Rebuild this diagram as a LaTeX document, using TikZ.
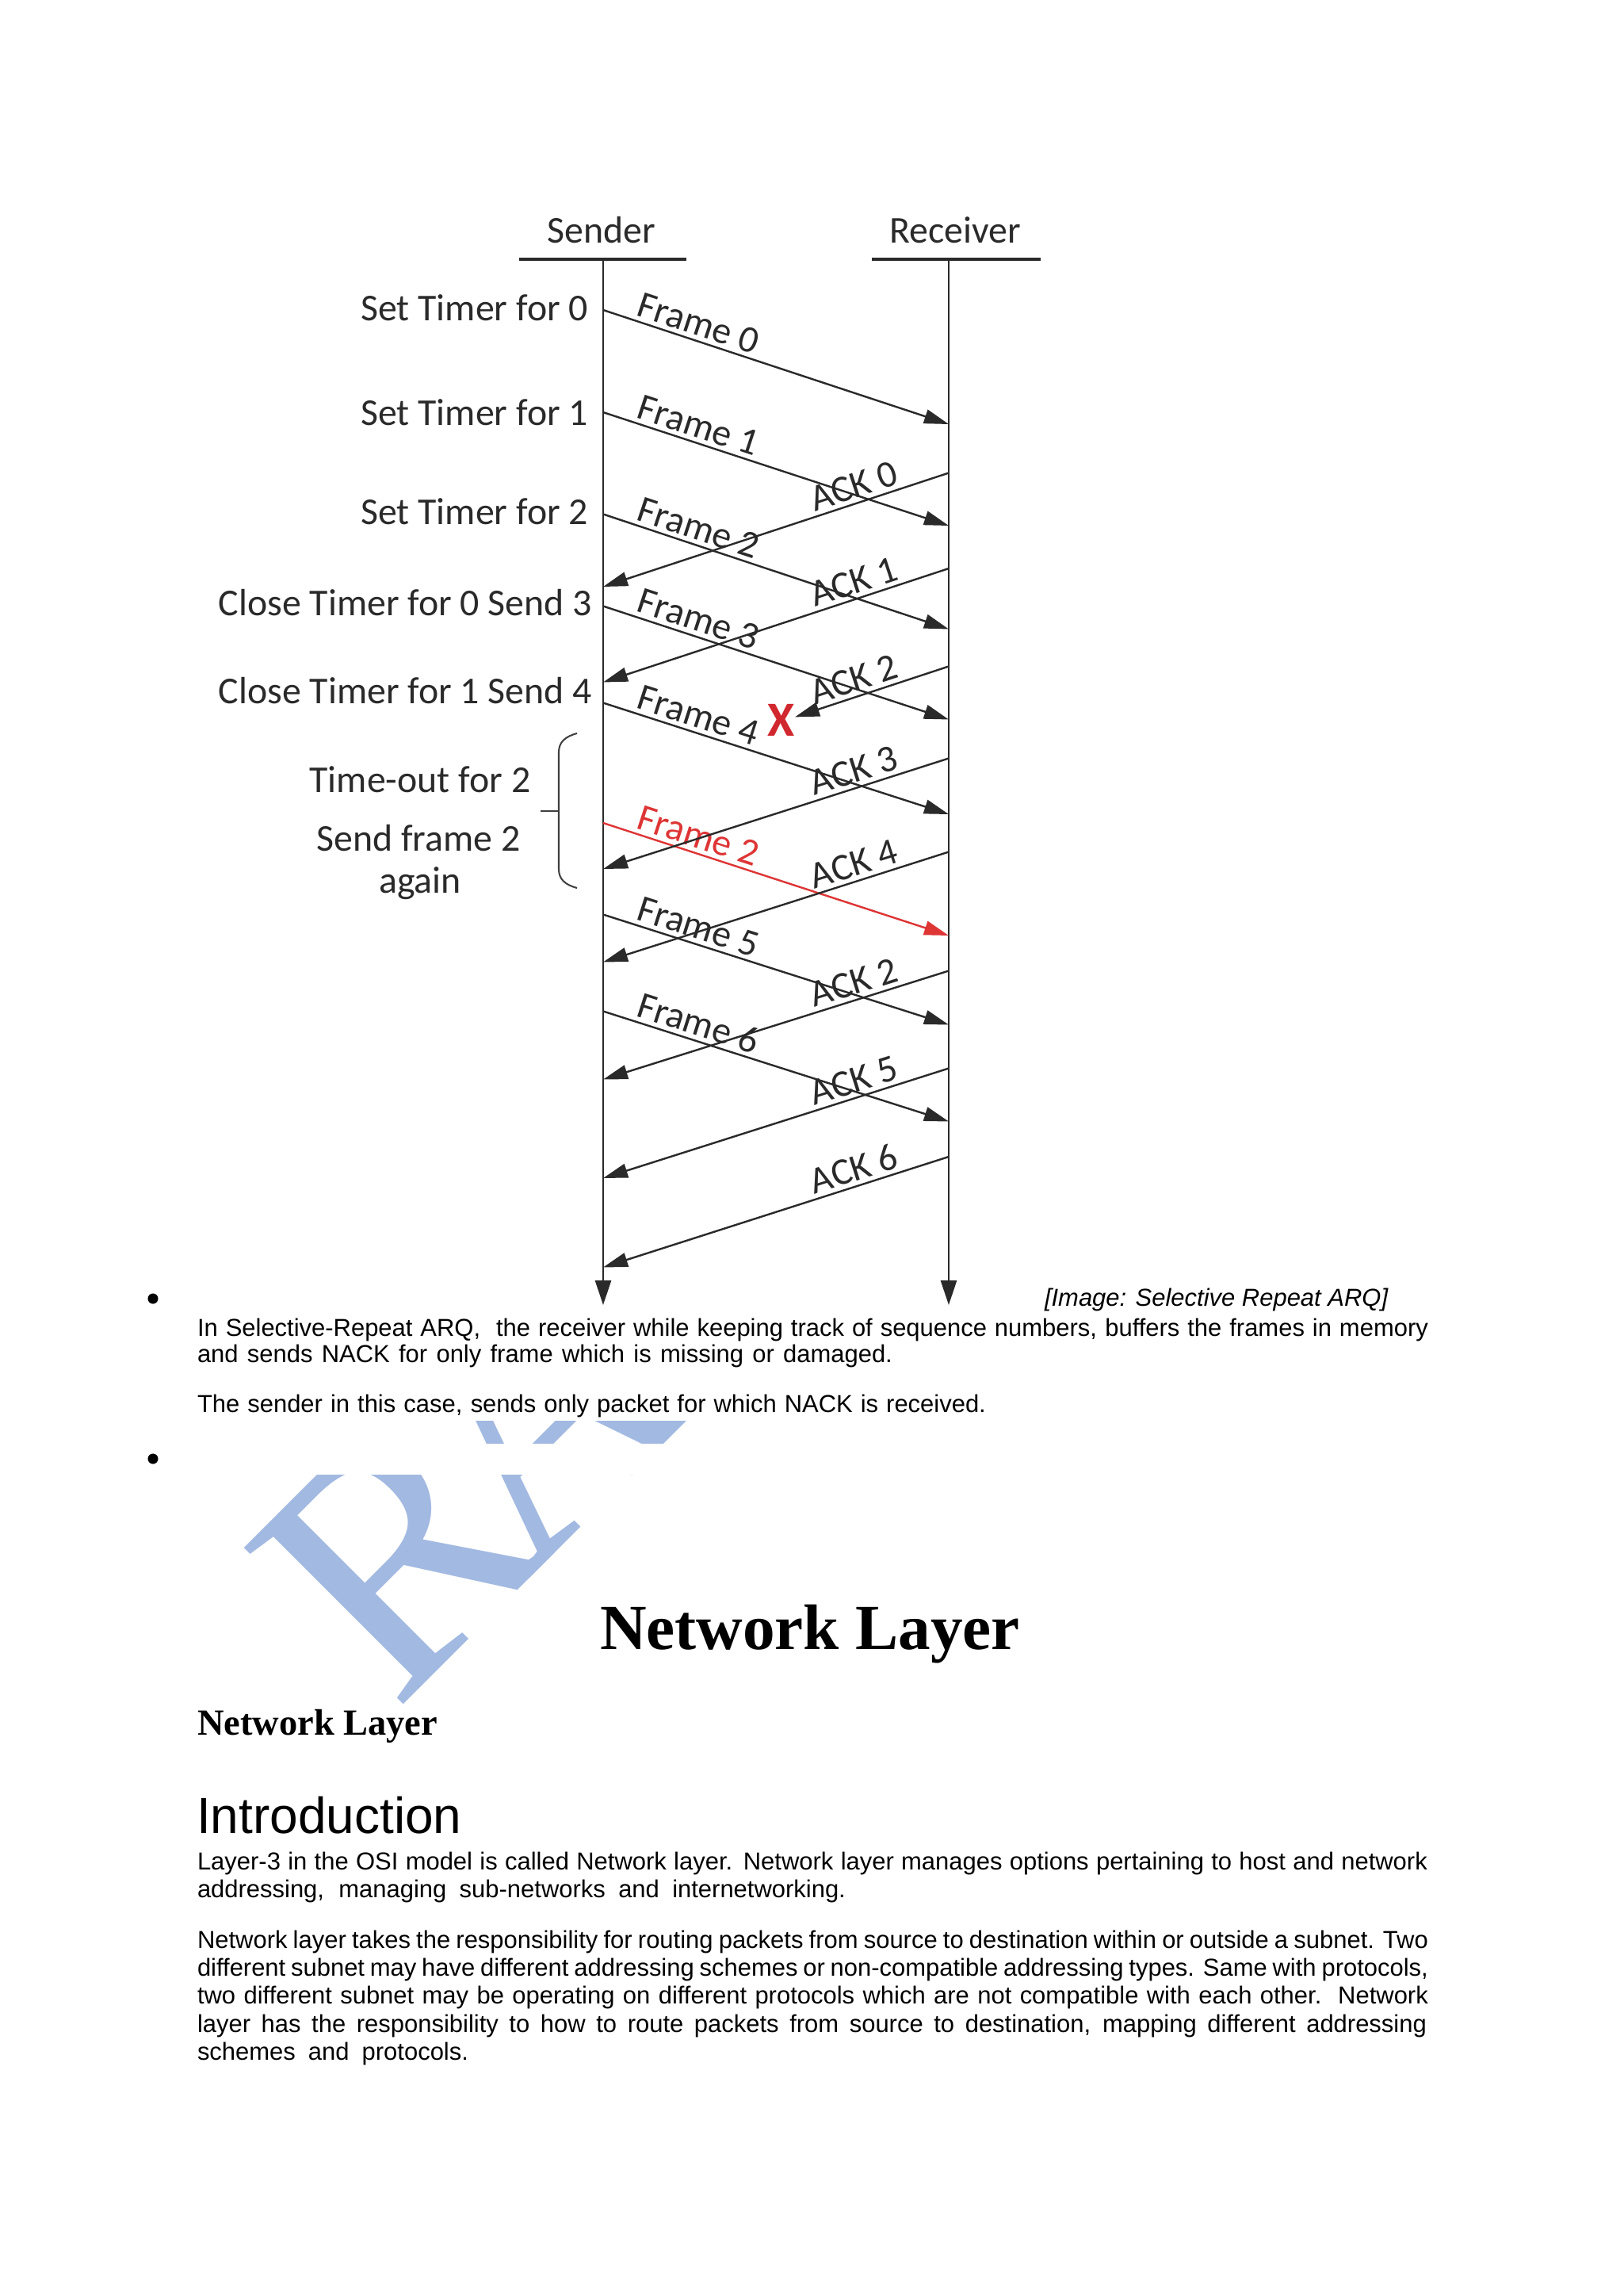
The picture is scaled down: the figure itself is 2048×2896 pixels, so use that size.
\documentclass[tikz,border=0pt]{standalone}
\usepackage{fontspec}
\setmainfont{Liberation Sans}
\newfontfamily\dgfont{Carlito}
\newfontfamily\serifb{Liberation Serif}
\usetikzlibrary{arrows.meta}
\definecolor{ink}{HTML}{2A2A2A}
\definecolor{redarr}{HTML}{DE3535}
\definecolor{xred}{HTML}{D0282E}
\definecolor{wm}{RGB}{162,185,225}
\newlength\pxu
\setlength\pxu{0.29065pt}
\begin{document}
\begin{tikzpicture}[x=0.29065pt, y=-0.29065pt,
  every node/.style={inner sep=0pt, outer sep=0pt},
  lbl/.style={font=\dgfont\fontsize{13.9}{16}\selectfont, text=ink},
  msg/.style={draw=ink, line width=0.7pt, -{Triangle[length=9pt,width=5.2pt]}},
  redmsg/.style={draw=redarr, line width=0.7pt, -{Triangle[length=9pt,width=5.2pt]}},
  lifeline/.style={draw=ink, line width=0.8pt, -{Triangle[length=9pt,width=5.8pt]}},
  tag/.style={lbl, sloped, above, inner sep=1.8pt, pos=0.26},
  body/.style={font=\fontsize{9}{10.35}\selectfont, anchor=base west},
  dot/.style={circle, fill=black, minimum size=3.8pt},
]
\fill[white] (0,0) rectangle (2048,2896);
\useasboundingbox (0,0) rectangle (2048,2896);

% ---------- watermark ----------
\begin{scope}
  \clip (0,1792) rectangle (2048,1820) (0,1860) rectangle (2048,2896);
  \node[font=\serifb\fontsize{125}{125}\selectfont, text=wm, rotate=45, anchor=base west] (wmR) at (498,2160) {R};
  \node[font=\serifb\fontsize{125}{125}\selectfont, text=wm, rotate=45, anchor=base west] (wmA) at (664,1994) {A};
\end{scope}

% ---------- headers and lifelines ----------
\node[lbl, anchor=base] (sender) at (759,306) {Sender};
\node[lbl, anchor=base] (receiver) at (1205,306) {Receiver};
\coordinate (sUL1) at (655,327); \coordinate (sUL2) at (866,327);
\coordinate (rUL1) at (1100,327); \coordinate (rUL2) at (1313,327);
\draw[ink, line width=0.9pt] (sUL1) -- (sUL2);
\draw[ink, line width=0.9pt] (rUL1) -- (rUL2);
\coordinate (sTop) at (761,327); \coordinate (sBot) at (761,1646);
\coordinate (rTop) at (1197,327); \coordinate (rBot) at (1197,1646);
\draw[lifeline] (sTop) -- (sBot);
\draw[lifeline] (rTop) -- (rBot);

% ---------- frames ----------
\foreach \n/\ys/\ye/\t in {0/391/535/Frame 0, 1/520/663/Frame 1, 2/648.5/793.5/Frame 2,
  3/764.5/907.5/Frame 3, 4/886.5/1027/Frame 4, 5/1153.5/1292.5/Frame 5, 6/1275.5/1414.5/Frame 6}{
  \coordinate (fs\n) at (761,\ys);
  \coordinate (fe\n) at (1197,\ye);
  \draw[msg] (fs\n) -- node[tag] {\t} (fe\n);
}
\coordinate (fsR) at (761,1038);
\coordinate (feR) at (1197,1180);
\draw[redmsg] (fsR) -- node[tag, text=redarr] {Frame 2} (feR);

% ---------- acks ----------
\foreach \n/\ys/\ye/\t in {0/596.5/740/ACK 0, 1/717/860.5/ACK 1, 3/956.5/1096/ACK 3,
  4/1074.5/1213.5/ACK 4, 7/1224.5/1361.5/ACK 2, 5/1347.5/1486/ACK 5, 6/1459/1598.5/ACK 6}{
  \coordinate (as\n) at (1197,\ys);
  \coordinate (ae\n) at (761,\ye);
  \draw[msg] (as\n) -- node[tag] {\t} (ae\n);
}
% lost ACK 2
\coordinate (as2) at (1197,840.5);
\coordinate (av2) at (761,984);
\coordinate (ax2) at (1003,904.4);
\path (as2) -- node[tag] {ACK 2} (av2);
\draw[msg] (as2) -- (ax2);
\node[font=\dgfont\bfseries\fontsize{18}{20}\selectfont, text=xred] (lost) at (986,908) {X};

% ---------- left labels ----------
\node[lbl, anchor=base east] (t0) at (742,404) {Set Timer for 0};
\node[lbl, anchor=base east] (t1) at (742,536) {Set Timer for 1};
\node[lbl, anchor=base east] (t2) at (742,661) {Set Timer for 2};
\node[lbl, anchor=base east] (t3) at (747,776) {Close Timer for 0 Send 3};
\node[lbl, anchor=base east] (t4) at (747,887) {Close Timer for 1 Send 4};
\node[lbl, anchor=base] (to) at (530,999) {Time-out for 2};
\node[lbl, anchor=base] (sf) at (528,1073) {Send frame 2};
\node[lbl, anchor=base] (ag) at (530,1126) {again};

% brace
\coordinate (bt) at (728,925); \coordinate (bb) at (728,1120);
\coordinate (bk) at (682,1022.7); \coordinate (bm) at (705,1022.7);
\draw[ink!90, line width=0.6pt] (bt) .. controls (713,929) and (705,936) .. (705,949) -- (705,1096) .. controls (705,1109) and (713,1116) .. (bb);
\draw[ink!90, line width=0.6pt] (bk) -- (bm);

% ---------- text below ----------
\node[dot] (b1) at (193,1638) {};
\node[dot] (b2) at (193,1840) {};
\node[body, font=\fontsize{9}{10.35}\selectfont\itshape] (cap) at (1318,1647) {[Image: Selective Repeat ARQ]};
\node[body] (p1a) at (249,1685) {\makebox[1553\pxu][s]{In Selective-Repeat ARQ,\ \ the receiver while keeping track of sequence numbers, buffers the frames in memory}};
\node[body] (p1b) at (249,1718) {\makebox[877\pxu][s]{and sends NACK for only frame which is missing or damaged.}};
\node[body] (p1c) at (249,1781) {\makebox[995\pxu][s]{The sender in this case, sends only packet for which NACK is received.}};

\node[anchor=base west, font=\serifb\bfseries\fontsize{23.6}{28}\selectfont] (title) at (757,2080) {Network Layer};
\node[anchor=base west, font=\serifb\bfseries\fontsize{13.5}{16}\selectfont] (sub) at (249,2188) {Network Layer};
\node[anchor=base west, font=\fontsize{18.6}{22}\selectfont] (intro) at (248,2312) {Introduction};

\node[body] (q1) at (249,2358) {\makebox[1552\pxu][s]{Layer-3 in the OSI model is called Network layer. Network layer manages options pertaining to host and network}};
\node[body] (q2) at (249,2393) {\makebox[818\pxu][s]{addressing, managing sub-networks and internetworking.}};
\node[body] (q3) at (249,2457) {\makebox[1553\pxu][s]{Network layer takes the responsibility for routing packets from source to destination within or outside a subnet. Two}};
\node[body] (q4) at (249,2492) {\makebox[1553\pxu][s]{different subnet may have different addressing schemes or non-compatible addressing types. Same with protocols,}};
\node[body] (q5) at (249,2527) {\makebox[1553\pxu][s]{two different subnet may be operating on different protocols which are not compatible with each other.\ \ Network}};
\node[body] (q6) at (249,2563) {\makebox[1551\pxu][s]{layer has the responsibility to how to route packets from source to destination, mapping different addressing}};
\node[body] (q7) at (249,2598) {\makebox[342\pxu][s]{schemes and protocols.}};
\end{tikzpicture}
\end{document}
